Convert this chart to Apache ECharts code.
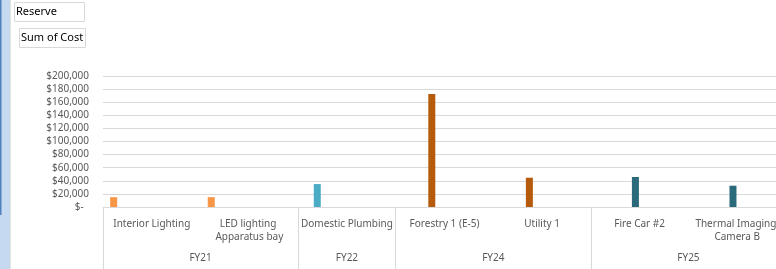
<!DOCTYPE html>
<html>
<head>
<meta charset="utf-8">
<script src="https://cdn.jsdelivr.net/npm/echarts@6/dist/echarts.min.js"></script>
<style>
  html, body { margin: 0; padding: 0; background: #fff; }
  #main { width: 776px; height: 269px; }
</style>
</head>
<body>
<div id="main"></div>
<script>
// 数据
const categories = ['Interior Lighting', 'LED lighting Apparatus bay', 'Domestic Plumbing', 'Forestry 1 (E-5)', 'Utility 1', 'Fire Car #2', 'Thermal Imaging Camera B'];
const categoryFY = ['FY21', 'FY21', 'FY22', 'FY24', 'FY24', 'FY25', 'FY25'];
const costs = [15000, 15000, 35000, 172500, 44700, 45800, 32500];
const groupNames = ['FY21', 'FY22', 'FY24', 'FY25'];
const groupSizes = [2, 1, 2, 2];
const seriesFY = ['FY21', 'FY22', 'FY23', 'FY24', 'FY25', 'FY26', 'FY27', 'FY28', 'FY29', 'FY30'];
const seriesColors = ['#F79646', '#4BACC6', '#9BBB59', '#B65A0C', '#2A6A7B', '#8064A2', '#4F81BD', '#C0504D', '#76923C', '#5F497A'];
const yTicks = { min: 0, max: 200000, interval: 20000 };

const labelColor = '#595959';
const lineColor = '#D9D9D9';
const fontFamily = '"Noto Sans", sans-serif';

// 分组轴：每个类别两个半格，用 boundaryGap:false 的点来放标签和分隔线
const groupAxisData = [];
const groupTickIdx = [0];
const groupLabelIdx = {};
let pos = 0;
groupSizes.forEach((n, i) => {
  groupLabelIdx[pos + n] = groupNames[i];
  pos += n * 2;
  groupTickIdx.push(pos);
});
for (let i = 0; i <= categories.length * 2; i++) {
  groupAxisData.push(groupLabelIdx[i] || '');
}

const series = seriesFY.map((fy, s) => ({
  name: fy,
  type: 'bar',
  barWidth: 7,
  barGap: '21%',
  itemStyle: { color: seriesColors[s] },
  data: categories.map((c, i) => (categoryFY[i] === fy ? costs[i] : null))
}));

const chart = echarts.init(document.getElementById('main'));
const option = {
  animation: false,
  textStyle: { fontFamily: fontFamily },
  grid: { left: 103, top: 76, right: -10, bottom: 62, outerBoundsMode: 'none', containLabel: false },
  graphic: [
    { type: 'rect', shape: { x: 0, y: 0, width: 10, height: 269 }, style: { fill: '#C5D9F1' } },
    { type: 'rect', shape: { x: 0, y: 0, width: 1.5, height: 215 }, style: { fill: '#4F81BD' } },
    { type: 'rect', shape: { x: 10, y: 0, width: 1, height: 269 }, style: { fill: '#E3E3E3' } },
    { type: 'rect', shape: { x: 14.5, y: 2.5, width: 70, height: 19 }, style: { fill: '#fff', stroke: '#D9D9D9', lineWidth: 1 } },
    { type: 'text', x: 16, y: 6, style: { text: 'Reserve', fill: '#000', font: '11px "Noto Sans"' } },
    { type: 'rect', shape: { x: 19.5, y: 28.5, width: 66, height: 19 }, style: { fill: '#fff', stroke: '#D9D9D9', lineWidth: 1 } },
    { type: 'text', x: 21, y: 32, style: { text: 'Sum of Cost', fill: '#000', font: '11px "Noto Sans"' } }
  ],
  xAxis: [
    {
      type: 'category',
      data: categories,
      axisLine: { lineStyle: { color: lineColor } },
      axisTick: { show: false },
      axisLabel: {
        interval: 0,
        margin: 10,
        width: 96,
        overflow: 'break',
        lineHeight: 13.5,
        color: labelColor,
        fontSize: 10,
        fontFamily: fontFamily
      }
    },
    {
      type: 'category',
      position: 'bottom',
      boundaryGap: false,
      data: groupAxisData,
      axisLine: { show: false },
      axisTick: {
        show: true,
        length: 62,
        interval: (idx) => groupTickIdx.indexOf(idx) >= 0,
        lineStyle: { color: lineColor }
      },
      axisLabel: {
        interval: 0,
        margin: 46,
        color: labelColor,
        fontSize: 10,
        fontFamily: fontFamily
      },
      splitLine: { show: false }
    }
  ],
  yAxis: {
    type: 'value',
    min: yTicks.min,
    max: yTicks.max,
    interval: yTicks.interval,
    axisLine: { show: false },
    axisTick: { show: false },
    splitLine: { lineStyle: { color: lineColor } },
    axisLabel: {
      margin: 14,
      color: labelColor,
      fontSize: 10,
      fontFamily: fontFamily,
      formatter: (v) => (v === 0 ? '$-  ' : '$' + v.toLocaleString('en-US'))
    }
  },
  series: series
};
chart.setOption(option);
</script>
</body>
</html>
